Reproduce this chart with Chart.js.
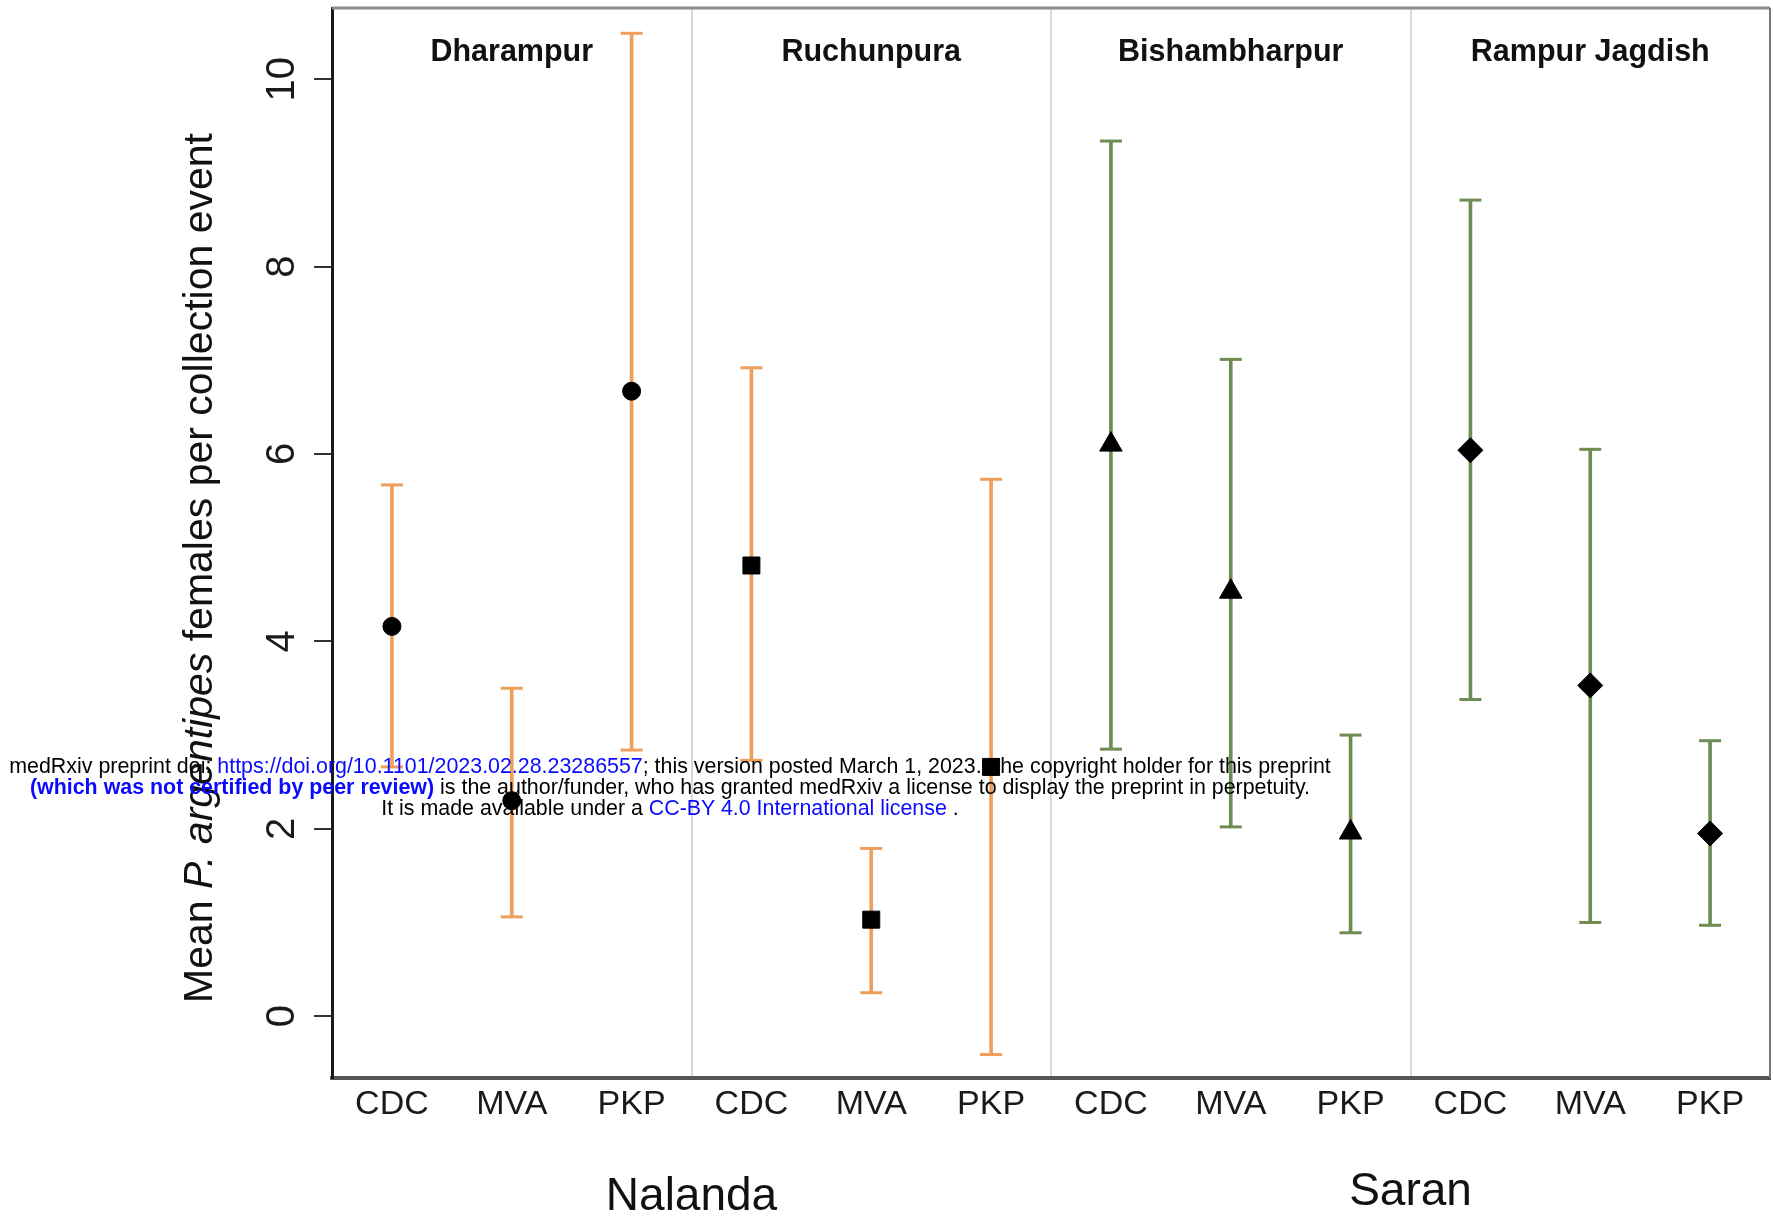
<!DOCTYPE html>
<html>
<head>
<meta charset="utf-8">
<script src="https://cdn.jsdelivr.net/npm/chart.js@4.4.0/dist/chart.umd.min.js"></script>
<style>
  body { margin: 0; background: #fff; }
  #wrap { position: relative; width: 1773px; height: 1232px; }
  #stamp {
    position: absolute; left: 0; top: 756px; width: 1340px;
    text-align: center; font: 21.4px "Liberation Sans", Arial, sans-serif;
    line-height: 21px; color: #000;
  }
  #stamp .lnk { color: #0a0aff; }
  #stamp b { color: #0a0aff; }
</style>
</head>
<body>
<div id="wrap">
  <canvas id="chart" width="1773" height="1232"></canvas>
  <div id="stamp">
    medRxiv preprint doi: <span class="lnk">https://doi.org/10.1101/2023.02.28.23286557</span>; this version posted March 1, 2023. The copyright holder for this preprint<br>
    <b>(which was not certified by peer review)</b> is the author/funder, who has granted medRxiv a license to display the preprint in perpetuity.<br>
    It is made available under a <span class="lnk">CC-BY 4.0 International license</span> .
  </div>
</div>
<script>
// chart values
var methods = ['CDC', 'MVA', 'PKP', 'CDC', 'MVA', 'PKP', 'CDC', 'MVA', 'PKP', 'CDC', 'MVA', 'PKP'];
var sites = ['Dharampur', 'Ruchunpura', 'Bishambharpur', 'Rampur Jagdish'];
var districts = ['Nalanda', 'Saran'];
var meanVals = [4.16, 2.30, 6.67, 4.81, 1.03, 2.66, 6.10, 4.53, 1.96, 6.04, 3.53, 1.95];
var upperVals = [5.67, 3.50, 10.49, 6.92, 1.79, 5.73, 9.34, 7.01, 3.00, 8.71, 6.05, 2.94];
var lowerVals = [2.66, 1.06, 2.84, 2.73, 0.25, -0.41, 2.85, 2.02, 0.89, 3.38, 1.00, 0.97];
var yTicks = [0, 2, 4, 6, 8, 10];

var orange = '#EE9F5C';
var green = '#6F8C52';
var barColors = methods.map(function (m, i) { return i < 6 ? orange : green; });
var shapes = methods.map(function (m, i) { return ['circle', 'rect', 'triangle', 'rectRot'][Math.floor(i / 3)]; });
var sizes = methods.map(function (m, i) { return [9, 12, 13, 12.5][Math.floor(i / 3)]; });

var FONT = '"Liberation Sans", Arial, sans-serif';

// frame, panel titles, district labels and y title
var decorations = {
    id: 'decorations',
    afterDraw: function (chart) {
        var ctx = chart.ctx, area = chart.chartArea, x = chart.scales.x;
        ctx.save();
        ctx.strokeStyle = '#8c8c8c';
        ctx.lineWidth = 3;
        ctx.beginPath();
        ctx.moveTo(area.left, area.top);
        ctx.lineTo(area.right, area.top);
        ctx.stroke();
        ctx.strokeStyle = '#777';
        ctx.lineWidth = 2;
        ctx.beginPath();
        ctx.moveTo(area.right, area.top);
        ctx.lineTo(area.right, area.bottom);
        ctx.stroke();

        ctx.fillStyle = '#111';
        ctx.textAlign = 'center';
        ctx.textBaseline = 'middle';
        ctx.font = 'bold 30.5px ' + FONT;
        sites.forEach(function (s, i) {
            ctx.fillText(s, x.getPixelForValue(i * 3 + 1), 53);
        });

        ctx.font = '46px ' + FONT;
        districts.forEach(function (d, i) {
            var a = x.getPixelForValue(i * 6 + 2), b = x.getPixelForValue(i * 6 + 3);
            ctx.fillText(d, (a + b) / 2, i === 0 ? 1197 : 1192);
        });

        // y axis title with italic species name
        var parts = [['Mean ', ''], ['P. argentipes', 'italic '], [' females per collection event', '']];
        ctx.translate(201, 568);
        ctx.rotate(-Math.PI / 2);
        var total = 0;
        parts.forEach(function (p) {
            ctx.font = p[1] + '41px ' + FONT;
            total += ctx.measureText(p[0]).width;
        });
        var pos = -total / 2;
        ctx.textAlign = 'left';
        parts.forEach(function (p) {
            ctx.font = p[1] + '41px ' + FONT;
            ctx.fillText(p[0], pos, 0);
            pos += ctx.measureText(p[0]).width;
        });
        ctx.restore();
    }
};

new Chart(document.getElementById('chart'), {
    data: {
        labels: methods,
        datasets: [{
            type: 'line',
            label: 'Mean',
            data: meanVals,
            showLine: false,
            pointStyle: shapes,
            pointRadius: sizes,
            pointBackgroundColor: '#000',
            pointBorderColor: '#000',
            pointBorderWidth: 1,
            order: 0
        }, {
            type: 'line',
            label: 'Upper',
            data: upperVals,
            showLine: false,
            pointStyle: 'line',
            pointRadius: 11,
            pointBorderWidth: 3,
            pointBorderColor: barColors,
            order: 1
        }, {
            type: 'line',
            label: 'Lower',
            data: lowerVals,
            showLine: false,
            pointStyle: 'line',
            pointRadius: 11,
            pointBorderWidth: 3,
            pointBorderColor: barColors,
            order: 1
        }, {
            type: 'bar',
            label: 'Range',
            data: lowerVals.map(function (lo, i) { return [lo, upperVals[i]]; }),
            backgroundColor: barColors,
            barThickness: 3,
            borderWidth: 0,
            grouped: false,
            order: 2
        }]
    },
    options: {
        responsive: false,
        animation: false,
        layout: { autoPadding: false, padding: { top: 8, right: 3, left: 0, bottom: 0 } },
        plugins: {
            legend: { display: false },
            tooltip: { enabled: false }
        },
        scales: {
            x: {
                offset: true,
                grid: {
                    offset: true,
                    drawTicks: false,
                    lineWidth: 2,
                    color: function (c) { return (c.index === 3 || c.index === 6 || c.index === 9) ? '#d9d9d9' : 'rgba(0,0,0,0)'; }
                },
                border: { display: true, color: '#555', width: 4 },
                ticks: {
                    color: '#1a1a1a',
                    padding: 6,
                    maxRotation: 0,
                    autoSkip: false,
                    font: { family: FONT, size: 34 }
                },
                afterFit: function (s) {
                    s.height = 154;
                    s.paddingLeft = 0;
                    s.paddingRight = 0;
                }
            },
            y: {
                min: -0.66,
                max: 10.76,
                afterBuildTicks: function (s) { s.ticks = yTicks.map(function (v) { return { value: v }; }); },
                grid: {
                    drawOnChartArea: false,
                    tickLength: 18,
                    lineWidth: 2,
                    color: '#333'
                },
                border: { display: true, color: '#1a1a1a', width: 3 },
                ticks: {
                    color: '#1a1a1a',
                    minRotation: 90,
                    maxRotation: 90,
                    crossAlign: 'center',
                    padding: 9,
                    font: { family: FONT, size: 40 }
                },
                afterFit: function (s) {
                    s.width = 332;
                    s.paddingTop = 0;
                    s.paddingBottom = 0;
                }
            }
        }
    },
    plugins: [decorations]
});
</script>
</body>
</html>
